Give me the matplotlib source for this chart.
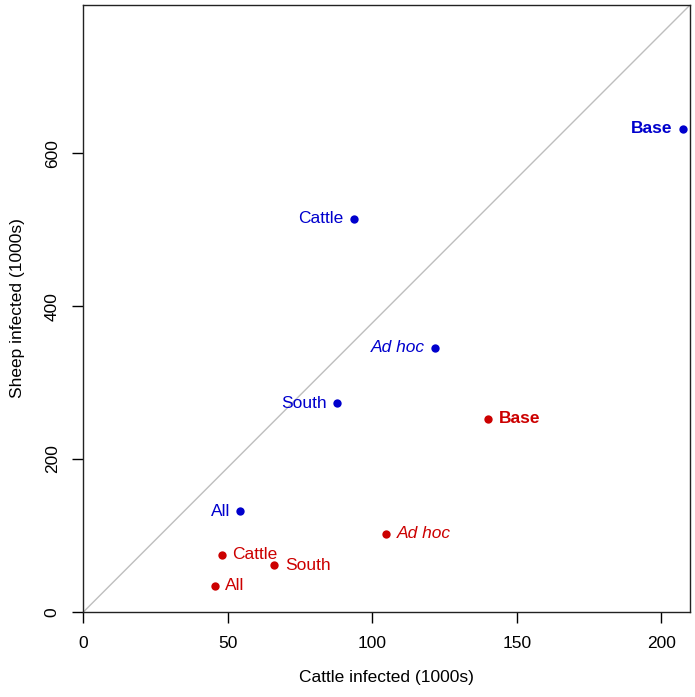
import matplotlib
matplotlib.use('Agg')
import matplotlib.pyplot as plt

plt.rcParams['font.family'] = ['Liberation Sans', 'DejaVu Sans']

labels = ['Base', 'Cattle', 'Ad hoc', 'South', 'All']
sheep_x = [207.5, 93.7, 121.8, 87.7, 54.3]
sheep_y = [632, 514, 345.5, 272.8, 132]
cattle_x = [140.1, 48.0, 104.8, 66.1, 45.5]
cattle_y = [252.7, 74.9, 102.4, 61.4, 34]

xmax, ymax = 210, 794
blue = '#0000CD'
red = '#CC0000'


def style(name):
    if name == 'Base':
        return dict(fontweight='bold')
    if name == 'Ad hoc':
        return dict(fontstyle='italic')
    return {}


fig = plt.figure(figsize=(6.95, 6.97), dpi=100)
ax = fig.add_axes([0.120, 0.122, 0.873, 0.871])

ax.plot([0, xmax], [0, ymax], color='#BEBEBE', lw=1, zorder=1)

ax.plot(sheep_x, sheep_y, 'o', color=blue, ms=6, mec='none', zorder=3)
ax.plot(cattle_x, cattle_y, 'o', color=red, ms=6, mec='none', zorder=3)

for name, x, y in zip(labels, sheep_x, sheep_y):
    ax.annotate(name, (x, y), xytext=(-7.5, 0), textcoords='offset points',
                ha='right', va='center', color=blue, fontsize=12.5, **style(name))
for name, x, y in zip(labels, cattle_x, cattle_y):
    ax.annotate(name, (x, y), xytext=(7.5, 0), textcoords='offset points',
                ha='left', va='center', color=red, fontsize=12.5, **style(name))

ax.set_xlim(0, xmax)
ax.set_ylim(0, ymax)
ax.set_xticks([0, 50, 100, 150, 200])
ax.set_yticks([0, 200, 400, 600])
ax.tick_params(direction='out', length=8, width=1, labelsize=12.5, pad=9)
for lab in ax.get_yticklabels():
    lab.set_rotation(90)
    lab.set_va('center')
for s in ax.spines.values():
    s.set_linewidth(1)
    s.set_color('#222222')

ax.set_xlabel('Cattle infected (1000s)', fontsize=12.5, labelpad=14)
ax.set_ylabel('Sheep infected (1000s)', fontsize=12.5, labelpad=14)

fig.savefig('out.png', dpi=100)
